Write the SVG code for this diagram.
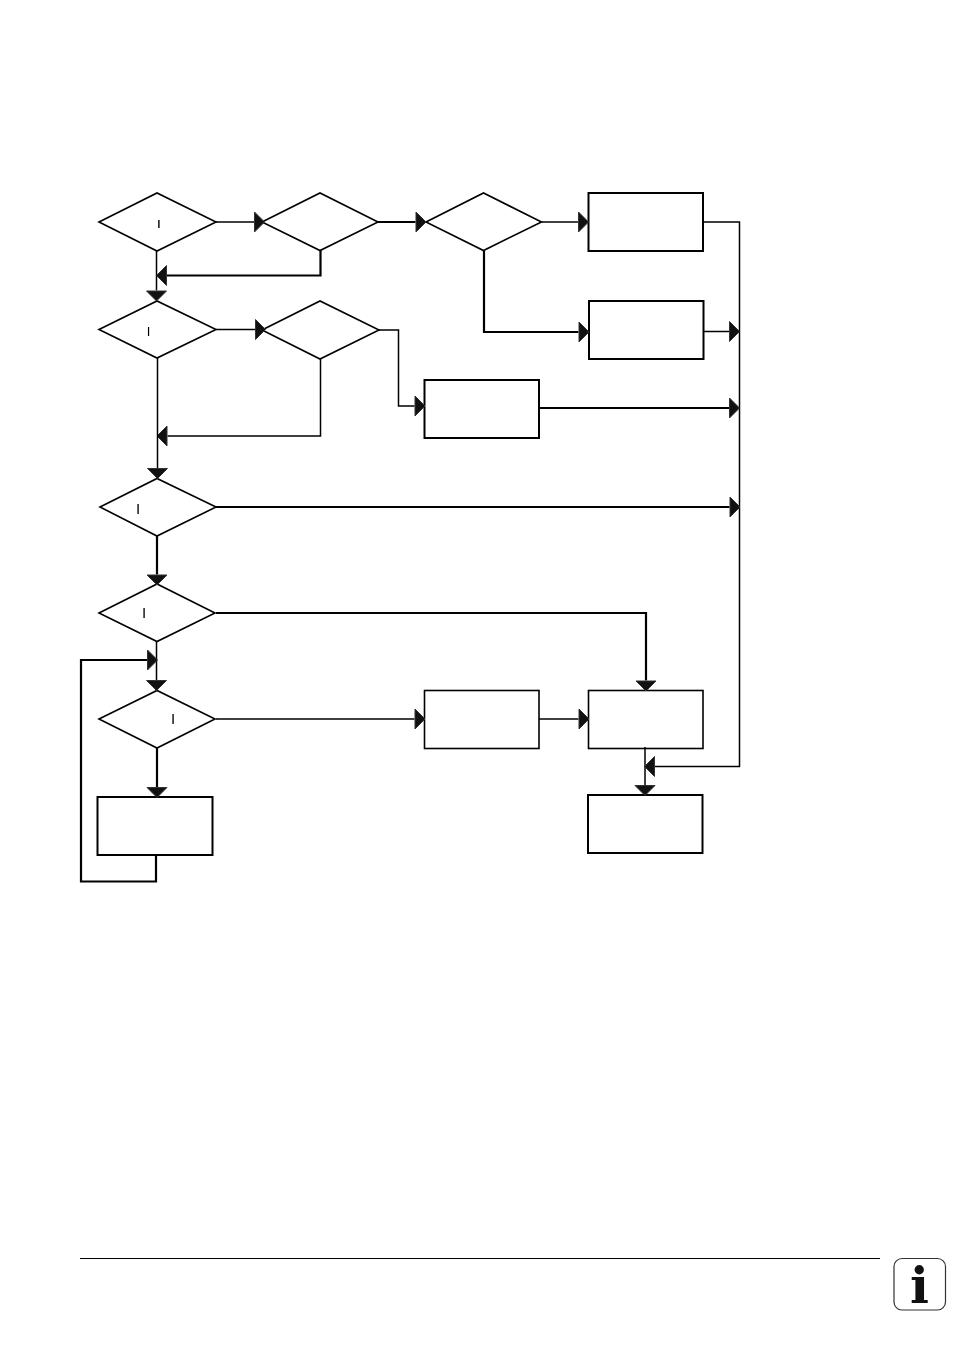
<svg xmlns="http://www.w3.org/2000/svg" width="954" height="1346" viewBox="0 0 954 1346">
<defs>
<marker id="ah" markerUnits="userSpaceOnUse" markerWidth="14" markerHeight="24" refX="0" refY="11" orient="auto" overflow="visible"><path d="M0.5,1 L10.5,11 L0.5,21 Z" fill="#111" stroke="#333" stroke-width="1"/></marker>
<filter id="gray" x="-100%" y="-100%" width="300%" height="300%"><feOffset dx="0" dy="0"/></filter>
</defs>
<style>
.n{fill:#fff;stroke:#000;stroke-width:1.6}
.b{fill:#fff;stroke:#000;stroke-width:2}
.c{fill:none;stroke:#000;stroke-width:1.5;marker-end:url(#ah)}
.k{stroke-width:2.2}
.p{fill:none;stroke:#000;stroke-width:1.5}
.t{font-family:"Liberation Sans",Arial,sans-serif;fill:#000;text-anchor:middle;filter:url(#gray)}
</style>
<rect width="954" height="1346" fill="#fff"/>
<g id="d1"><path class="n" d="M99,222 L157,193 L216,222 L157,251 Z"/><text class="t" x="159" y="228" font-size="10" font-weight="bold">I</text></g>
<g id="d2"><path class="n" d="M262,222 L320,193 L378,222 L320,250.5 Z"/></g>
<g id="d3"><path class="n" d="M426,222 L483.5,193 L541.5,222 L483.5,250.5 Z"/></g>
<g id="d4"><path class="n" d="M99,329.5 L157,301 L216,329.5 L157,358 Z"/><text class="t" x="148.500" y="336" font-size="13">I</text></g>
<g id="d5"><path class="n" d="M262,330 L320,301 L379,330 L320,359 Z"/></g>
<g id="d6"><path class="n" d="M100,507 L157,478.500 L216,507 L157,536 Z"/><text class="t" x="138" y="514" font-size="15">I</text></g>
<g id="d7"><path class="n" d="M99,613 L157,584 L215,613 L157,641.500 Z"/><text class="t" x="144" y="618" font-size="15">I</text></g>
<g id="d8"><path class="n" d="M99,719 L157,690.500 L215,719 L157,748 Z"/><text class="t" x="173" y="724" font-size="15">I</text></g>
<g id="r1"><rect class="b" x="588.500" y="193" width="114.500" height="58"/></g>
<g id="r2"><rect class="b" x="589" y="301" width="114.500" height="58"/></g>
<g id="r3"><rect class="b" x="424.500" y="380" width="114.500" height="58"/></g>
<g id="r4"><rect class="n" x="424.500" y="690.500" width="114.500" height="58"/></g>
<g id="r5"><rect class="n" x="588.500" y="690.500" width="114.500" height="58"/></g>
<g id="r6"><rect class="b" x="588" y="795" width="114.500" height="58"/></g>
<g id="r7"><rect class="b" x="97.500" y="797" width="115" height="58"/></g>
<g id="connectors">
<path class="c" d="M216,222 H254"/>
<path class="c k" d="M378,222 H415.500"/>
<path class="c" d="M541.500,222 H578"/>
<path class="c k" d="M484,251 V332 H578.500"/>
<path class="p" d="M702,222 H739.500 V767"/>
<path class="c" d="M703.500,331.500 H729"/>
<path class="c k" d="M539,408 H729"/>
<path class="c k" d="M216,507 H729.500"/>
<path class="c k" d="M216,613 H646 V680.500"/>
<path class="c" d="M216,719 H414.500"/>
<path class="c" d="M539,719 H578.500"/>
<path class="c" d="M645,747 V785"/>
<path class="c" d="M740,766.500 H655"/>
<path class="c" d="M156.500,251 V290.500"/>
<path class="c k" d="M320.500,250 V275.500 H167"/>
<path class="c" d="M216,329.500 H255"/>
<path class="c" d="M379,330 H398.500 V406 H414.500"/>
<path class="c" d="M320.500,359 V436 H167.500"/>
<path class="c" d="M157.500,358 V468"/>
<path class="c k" d="M157,536 V574.500"/>
<path class="c" d="M156.500,641 V680"/>
<path class="c k" d="M157,748 V787"/>
<path class="c k" d="M156,854 V881.500 H81 V660 H147"/>
</g>
<g id="footer"><line x1="80" y1="1258.500" x2="880" y2="1258.500" stroke="#000" stroke-width="1"/></g>
<g id="info"><rect x="894" y="1258.500" width="51.500" height="51.500" rx="8" fill="#fff" stroke="#333" stroke-width="1.200"/><text x="919.500" y="1303" font-family="'DejaVu Serif',serif" font-weight="bold" font-size="50" text-anchor="middle" fill="#111">i</text></g>
</svg>
